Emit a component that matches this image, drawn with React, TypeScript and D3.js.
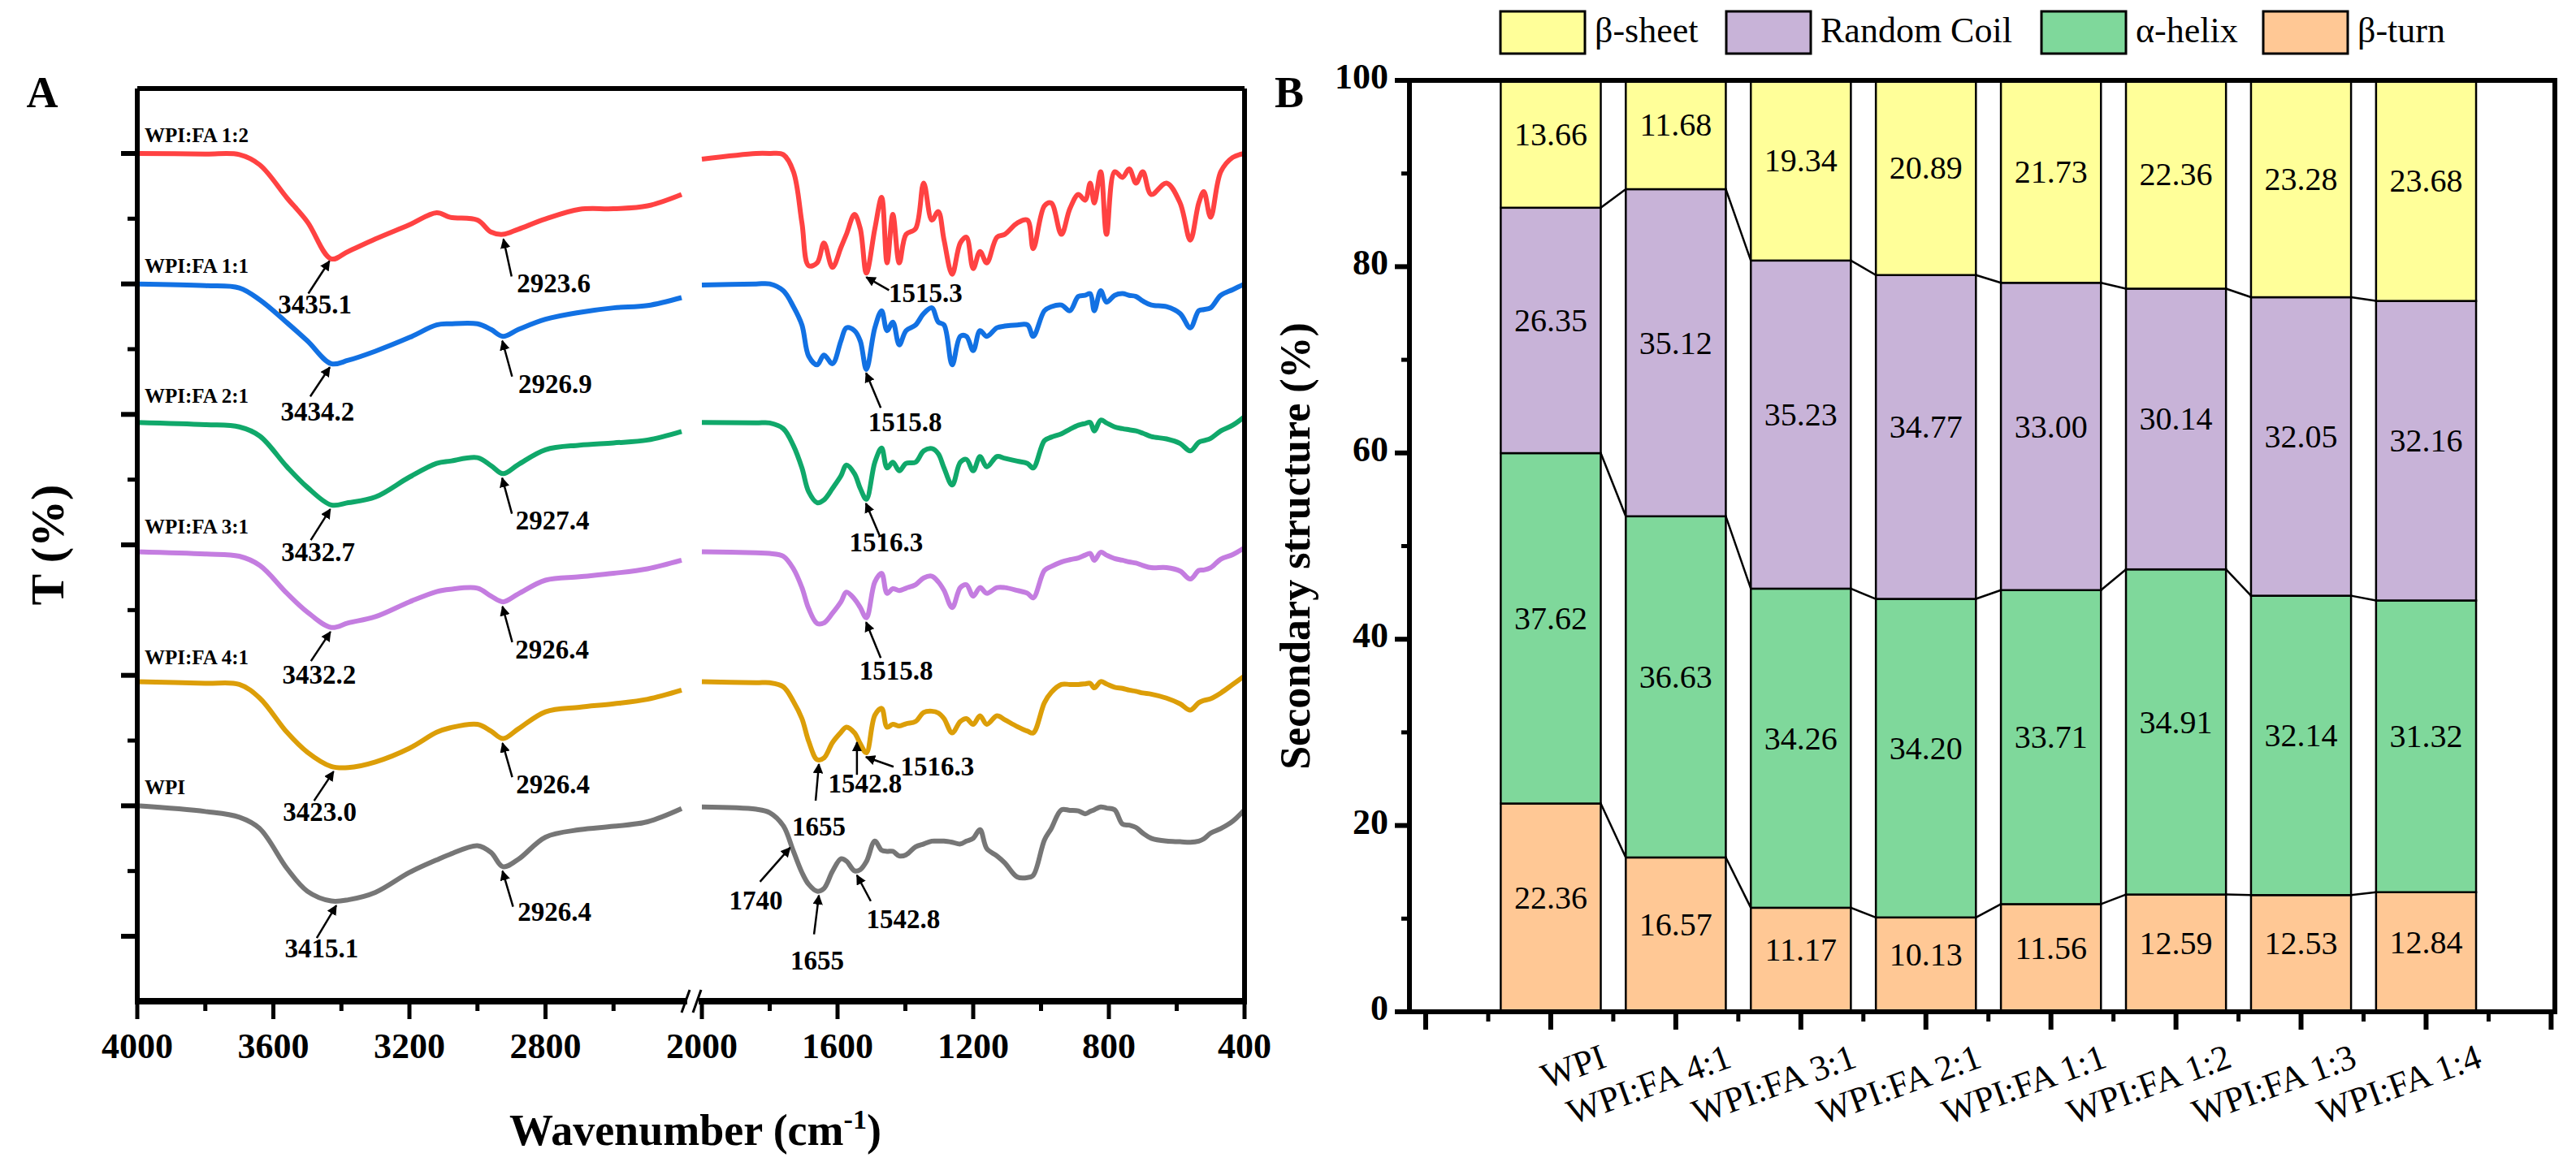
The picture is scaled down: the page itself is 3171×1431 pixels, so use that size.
import React, { useRef, useEffect } from 'react';
import * as d3 from 'd3';

// ---- Panel A: FTIR spectra (values relative to each curve's baseline) ----
const leftWn = [4000, 3800, 3700, 3640, 3560, 3500, 3430, 3380, 3300, 3200, 3120, 3080, 3000, 2960, 2925, 2880, 2800, 2700, 2600, 2500, 2400];
const rightWn = [2000, 1840, 1800, 1760, 1730, 1705, 1685, 1660, 1640, 1615, 1590, 1574, 1550, 1533, 1515, 1490, 1470, 1454, 1437, 1418,
  1398, 1370, 1346, 1322, 1303, 1286, 1262, 1238, 1220, 1200, 1180, 1160, 1130, 1107, 1070, 1040, 1023, 990, 970, 940,
  915, 890, 870, 855, 843, 824, 807, 783, 760, 740, 720, 700, 675, 630, 590, 560, 535, 520, 500, 470, 435, 400];

const sampleNames = ['WPI:FA 1:2', 'WPI:FA 1:1', 'WPI:FA 2:1', 'WPI:FA 3:1', 'WPI:FA 4:1', 'WPI'];
const sampleColors = ['#ff4242', '#1271e3', '#10a86a', '#c47de0', '#dc9e08', '#767676'];
const sampleOffsets = [1374, 1145, 916, 687, 458, 229];

const leftVals = [
  [0, -1, -2, -20, -78, -120, -185, -172, -150, -125, -104, -112, -117, -138, -142, -133, -115, -98, -97, -92, -72],
  [0, -3, -7, -28, -68, -100, -140, -134, -118, -94, -72, -70, -70, -80, -92, -80, -62, -50, -42, -38, -24],
  [-14, -18, -22, -38, -92, -128, -159, -155, -145, -110, -86, -82, -76, -90, -104, -88, -62, -54, -50, -45, -30],
  [-12, -16, -20, -36, -85, -118, -145, -137, -126, -100, -82, -78, -76, -90, -100, -86, -62, -56, -50, -42, -27],
  [-11, -14, -16, -40, -100, -135, -160, -162, -152, -128, -100, -92, -86, -98, -111, -94, -64, -56, -50, -42, -26],
  [0, -10, -20, -40, -110, -150, -167, -165, -152, -117, -95, -85, -70, -82, -107, -94, -55, -42, -36, -28, -5],
];

const rightVals = [
  [-10, 0, 0, -2, -32, -122, -197, -192, -157, -200, -165, -142, -107, -132, -210, -132, -77, -192, -107, -192,
    -142, -132, -52, -117, -102, -152, -212, -157, -147, -202, -172, -192, -147, -142, -122, -117, -167, -92, -87, -142,
    -97, -72, -82, -52, -87, -32, -142, -32, -42, -27, -52, -32, -72, -52, -87, -152, -87, -67, -112, -32, -7, 0],
  [-2, 0, 0, -12, -40, -72, -127, -142, -125, -140, -100, -77, -82, -100, -150, -77, -47, -82, -67, -107,
    -82, -72, -52, -42, -67, -72, -142, -92, -92, -117, -82, -92, -77, -74, -72, -72, -92, -47, -40, -37,
    -47, -22, -20, -17, -47, -12, -32, -20, -17, -20, -22, -30, -37, -40, -52, -77, -47, -45, -42, -20, -10, 0],
  [-14, -15, -15, -25, -55, -94, -136, -155, -150, -130, -108, -89, -104, -130, -149, -84, -59, -94, -84, -99,
    -86, -84, -64, -60, -69, -94, -124, -84, -79, -99, -74, -92, -74, -77, -82, -86, -94, -46, -40, -34,
    -26, -19, -16, -14, -29, -10, -15, -22, -25, -27, -29, -33, -39, -43, -51, -64, -49, -46, -42, -29, -19, -4],
  [-12, -14, -15, -20, -42, -75, -112, -138, -137, -120, -100, -83, -95, -110, -128, -65, -50, -85, -77, -80,
    -76, -70, -58, -55, -65, -80, -110, -75, -70, -90, -75, -85, -75, -75, -80, -85, -93, -45, -38, -30,
    -26, -23, -18, -15, -27, -13, -18, -24, -27, -30, -32, -36, -40, -40, -46, -60, -45, -44, -40, -25, -17, -5],
  [-11, -13, -13, -20, -46, -76, -116, -148, -145, -118, -100, -91, -101, -120, -136, -70, -58, -91, -86, -89,
    -85, -81, -65, -63, -66, -76, -101, -81, -76, -86, -71, -86, -71, -78, -90, -98, -101, -48, -30, -16,
    -16, -16, -15, -14, -22, -11, -15, -21, -23, -26, -28, -31, -33, -40, -50, -61, -48, -44, -41, -31, -16, -1],
  [-2, -6, -12, -35, -80, -117, -138, -150, -145, -115, -93, -97, -114, -112, -98, -62, -78, -80, -80, -88,
    -86, -72, -67, -62, -62, -62, -64, -67, -62, -57, -42, -75, -88, -100, -125, -126, -122, -60, -40, -7,
    -8, -9, -14, -10, -7, -2, -4, -7, -32, -34, -38, -48, -57, -62, -63, -64, -62, -58, -48, -40, -27, -7],
];

// peak annotations: sample index, wavenumber, label, tail offset, label offset (px)
const peakSample = [0, 0, 0, 1, 1, 1, 2, 2, 2, 3, 3, 3, 4, 4, 4, 4, 4, 5, 5, 5, 5, 5];
const peakWn = [3435.1, 2923.6, 1515.3, 3434.2, 2926.9, 1515.8, 3432.7, 2927.4, 1516.3, 3432.2, 2926.4, 1515.8,
  3423.0, 2926.4, 1542.8, 1516.3, 1655, 3415.1, 2926.4, 1740, 1655, 1542.8];
const peakLabel = ['3435.1', '2923.6', '1515.3', '3434.2', '2926.9', '1515.8', '3432.7', '2927.4', '1516.3', '3432.2', '2926.4', '1515.8',
  '3423.0', '2926.4', '1542.8', '1516.3', '1655', '3415.1', '2926.4', '1740', '1655', '1542.8'];
const peakTail = [[-26, 40], [10, 46], [28, 16], [-24, 36], [12, 44], [18, 43], [-24, 38], [12, 44], [17, 40], [-24, 36], [12, 44], [18, 44],
  [-24, 36], [12, 42], [0, 40], [34, 12], [-4, 45], [-24, 40], [13, 44], [-37, 42], [-6, 48], [17, 32]];
const peakText = [[-18, 57], [62, 58], [73, 23], [-15, 58], [65, 57], [48, 64], [-15, 56], [62, 56], [25, 52], [-14, 56], [61, 57], [37, 63],
  [-17, 53], [62, 54], [10, 54], [88, 15], [0, 80], [-18, 56], [64, 54], [-42, 68], [-2, 84], [57, 58]];

const aTicksLeft = [4000, 3600, 3200, 2800];
const aTicksRight = [2000, 1600, 1200, 800, 400];

// ---- Panel B: secondary structure ----
const categories = ['WPI', 'WPI:FA 4:1', 'WPI:FA 3:1', 'WPI:FA 2:1', 'WPI:FA 1:1', 'WPI:FA 1:2', 'WPI:FA 1:3', 'WPI:FA 1:4'];
const betaTurn = [22.36, 16.57, 11.17, 10.13, 11.56, 12.59, 12.53, 12.84];
const alphaHelix = [37.62, 36.63, 34.26, 34.20, 33.71, 34.91, 32.14, 31.32];
const randomCoil = [26.35, 35.12, 35.23, 34.77, 33.00, 30.14, 32.05, 32.16];
const betaSheet = [13.66, 11.68, 19.34, 20.89, 21.73, 22.36, 23.28, 23.68];
const seriesNames = ['β-sheet', 'Random Coil', 'α-helix', 'β-turn'];
const seriesColors = ['#ffff99', '#c8b3d8', '#7fd89b', '#ffc895'];
const yTicksB = [0, 20, 40, 60, 80, 100];

const FONT = '"Liberation Serif", "Times New Roman", serif';

const App = () => {
  const ref = useRef<SVGSVGElement>(null);

  useEffect(() => {
    const svg = d3.select(ref.current);
    svg.selectAll('*').remove();
    svg.attr('font-family', FONT);

    // ===== Panel A =====
    const L = 169, R = 1532, T = 109, B = 1233;
    const xl = d3.scaleLinear().domain([4000, 2400]).range([L, 839]);
    const xr = d3.scaleLinear().domain([2000, 400]).range([864, R]);
    const y = d3.scaleLinear().domain([-114, 1488]).range([B, T]);
    const xa = (w: number) => (w > 2200 ? xl(w) : xr(w));
    const gA = svg.append('g');

    const line = d3.line<[number, number]>().x(d => xa(d[0])).y(d => y(d[1])).curve(d3.curveCatmullRom.alpha(0.5));
    const valAt = (wns: number[], vals: number[], w: number) => {
      for (let i = 0; i < wns.length - 1; i++) {
        if (w <= wns[i] && w >= wns[i + 1]) {
          const t = (wns[i] - w) / (wns[i] - wns[i + 1]);
          return vals[i] + t * (vals[i + 1] - vals[i]);
        }
      }
      return vals[vals.length - 1];
    };

    sampleNames.forEach((name, i) => {
      const off = sampleOffsets[i];
      const lp = leftWn.map((w, j) => [w, off + leftVals[i][j]] as [number, number]);
      const rp = rightWn.map((w, j) => [w, off + rightVals[i][j]] as [number, number]);
      [lp, rp].forEach(p => gA.append('path').attr('d', line(p)).attr('fill', 'none')
        .attr('stroke', sampleColors[i]).attr('stroke-width', 6).attr('stroke-linejoin', 'round'));
      gA.append('text').attr('x', L + 9).attr('y', y(off) - 14).attr('font-size', 25).attr('font-weight', 'bold')
        .text(name);
    });

    // arrowheads
    svg.append('defs').append('marker').attr('id', 'ah').attr('viewBox', '0 0 10 10').attr('refX', 9).attr('refY', 5)
      .attr('markerWidth', 5).attr('markerHeight', 5).attr('orient', 'auto')
      .append('path').attr('d', 'M0,0 L10,5 L0,10 Z').attr('fill', '#000');

    peakWn.forEach((w, k) => {
      const i = peakSample[k];
      const v = w > 2200 ? valAt(leftWn, leftVals[i], w) : valAt(rightWn, rightVals[i], w);
      const px = xa(w), py = y(sampleOffsets[i] + v) + 6;
      gA.append('line').attr('x1', px + peakTail[k][0]).attr('y1', py + peakTail[k][1]).attr('x2', px).attr('y2', py)
        .attr('stroke', '#000').attr('stroke-width', 2.5).attr('marker-end', 'url(#ah)');
      gA.append('text').attr('x', px + peakText[k][0]).attr('y', py + peakText[k][1])
        .attr('text-anchor', 'middle').attr('dominant-baseline', 'middle')
        .attr('font-size', 33).attr('font-weight', 'bold').text(peakLabel[k]);
    });

    // frame & axes
    const sw = 6;
    gA.append('line').attr('x1', L).attr('x2', R).attr('y1', T).attr('y2', T).attr('stroke', '#000').attr('stroke-width', sw);
    gA.append('line').attr('x1', L).attr('x2', L).attr('y1', T).attr('y2', B).attr('stroke', '#000').attr('stroke-width', sw);
    gA.append('line').attr('x1', R).attr('x2', R).attr('y1', T).attr('y2', B).attr('stroke', '#000').attr('stroke-width', sw);
    gA.append('line').attr('x1', L - 3).attr('x2', 846).attr('y1', B).attr('y2', B).attr('stroke', '#000').attr('stroke-width', sw + 2);
    gA.append('line').attr('x1', 860).attr('x2', R + 3).attr('y1', B).attr('y2', B).attr('stroke', '#000').attr('stroke-width', sw + 2);
    [844, 858].forEach(bx => gA.append('line').attr('x1', bx - 5).attr('x2', bx + 5).attr('y1', B + 14).attr('y2', B - 14)
      .attr('stroke', '#000').attr('stroke-width', 3));

    d3.range(0, 1375, 229).forEach(v => gA.append('line').attr('x1', L - 20).attr('x2', L).attr('y1', y(v)).attr('y2', y(v))
      .attr('stroke', '#000').attr('stroke-width', 6));
    d3.range(114.5, 1375, 229).forEach(v => gA.append('line').attr('x1', L - 12).attr('x2', L).attr('y1', y(v)).attr('y2', y(v))
      .attr('stroke', '#000').attr('stroke-width', 5));

    const xTick = (xp: number, major: boolean) => gA.append('line').attr('x1', xp).attr('x2', xp).attr('y1', B)
      .attr('y2', B + (major ? 22 : 12)).attr('stroke', '#000').attr('stroke-width', 5);
    aTicksLeft.forEach(w => xTick(xl(w), true));
    aTicksRight.forEach(w => xTick(xr(w), true));
    [3800, 3400, 3000, 2600].forEach(w => xTick(xl(w), false));
    [1800, 1400, 1000, 600].forEach(w => xTick(xr(w), false));
    [...aTicksLeft.map(w => [xl(w), w]), ...aTicksRight.map(w => [xr(w), w])].forEach(([xp, w]) =>
      gA.append('text').attr('x', xp).attr('y', B + 60).attr('text-anchor', 'middle').attr('dominant-baseline', 'middle')
        .attr('font-size', 44).attr('font-weight', 'bold').text(String(w)));

    const xt = gA.append('text').attr('x', 856).attr('y', 1410).attr('text-anchor', 'middle')
      .attr('font-size', 54).attr('font-weight', 'bold');
    xt.append('tspan').text('Wavenumber (cm');
    xt.append('tspan').attr('dy', -20).attr('font-size', 34).text('-1');
    xt.append('tspan').attr('dy', 20).text(')');
    gA.append('text').attr('transform', `translate(78,${(T + B) / 2}) rotate(-90)`).attr('text-anchor', 'middle')
      .attr('font-size', 58).attr('font-weight', 'bold').text('T (%)');
    gA.append('text').attr('x', 52).attr('y', 132).attr('text-anchor', 'middle').attr('font-size', 54)
      .attr('font-weight', 'bold').text('A');

    // ===== Panel B =====
    const BL = 1735, BR = 3145, BT = 99, BB = 1246;
    const xb = d3.scaleLinear().domain([-0.13, 9.03]).range([BL, BR]);
    const yb = d3.scaleLinear().domain([0, 100]).range([BB, BT]);
    const gB = svg.append('g');
    const half = 0.4;

    const stacks = categories.map((_, i) => {
      const b0 = 0, b1 = betaTurn[i], b2 = b1 + alphaHelix[i], b3 = b2 + randomCoil[i];
      return [
        { lo: b0, hi: b1, v: betaTurn[i], c: seriesColors[3] },
        { lo: b1, hi: b2, v: alphaHelix[i], c: seriesColors[2] },
        { lo: b2, hi: b3, v: randomCoil[i], c: seriesColors[1] },
        { lo: b3, hi: 100, v: betaSheet[i], c: seriesColors[0] },
      ];
    });

    stacks.forEach((segs, i) => {
      const cx = i + 1;
      segs.forEach(s => {
        gB.append('rect').attr('x', xb(cx - half)).attr('width', xb(cx + half) - xb(cx - half))
          .attr('y', yb(s.hi)).attr('height', yb(s.lo) - yb(s.hi))
          .attr('fill', s.c).attr('stroke', '#000').attr('stroke-width', 2.5);
        gB.append('text').attr('x', xb(cx)).attr('y', yb((s.lo + s.hi) / 2) - 8).attr('text-anchor', 'middle')
          .attr('dominant-baseline', 'middle').attr('font-size', 40).text(s.v.toFixed(2));
      });
      if (i < stacks.length - 1) {
        [0, 1, 2].forEach(k => gB.append('line')
          .attr('x1', xb(cx + half)).attr('y1', yb(segs[k].hi))
          .attr('x2', xb(cx + 1 - half)).attr('y2', yb(stacks[i + 1][k].hi))
          .attr('stroke', '#000').attr('stroke-width', 2.5));
      }
    });

    gB.append('rect').attr('x', BL).attr('y', BT).attr('width', BR - BL).attr('height', BB - BT)
      .attr('fill', 'none').attr('stroke', '#000').attr('stroke-width', 6);

    yTicksB.forEach(v => {
      gB.append('line').attr('x1', BL - 18).attr('x2', BL).attr('y1', yb(v)).attr('y2', yb(v)).attr('stroke', '#000').attr('stroke-width', 6);
      gB.append('text').attr('x', BL - 26).attr('y', yb(v)).attr('text-anchor', 'end').attr('dominant-baseline', 'middle')
        .attr('font-size', 44).attr('font-weight', 'bold').text(String(v));
    });
    d3.range(10, 100, 20).forEach(v => gB.append('line').attr('x1', BL - 10).attr('x2', BL).attr('y1', yb(v)).attr('y2', yb(v))
      .attr('stroke', '#000').attr('stroke-width', 5));
    d3.range(0, 10).forEach(k => gB.append('line').attr('x1', xb(k)).attr('x2', xb(k)).attr('y1', BB).attr('y2', BB + 22)
      .attr('stroke', '#000').attr('stroke-width', 6));
    d3.range(0.5, 9, 1).forEach(k => gB.append('line').attr('x1', xb(k)).attr('x2', xb(k)).attr('y1', BB).attr('y2', BB + 12)
      .attr('stroke', '#000').attr('stroke-width', 5));
    categories.forEach((c, i) => gB.append('text')
      .attr('transform', `translate(${xb(i + 1) + 60},${BB + 38}) rotate(-20)`)
      .attr('text-anchor', 'end').attr('dominant-baseline', 'hanging').attr('font-size', 44).text(c));

    gB.append('text').attr('transform', `translate(1612,${(BT + BB) / 2}) rotate(-90)`).attr('text-anchor', 'middle')
      .attr('font-size', 52).attr('font-weight', 'bold').text('Secondary structure (%)');
    gB.append('text').attr('x', 1587).attr('y', 132).attr('text-anchor', 'middle').attr('font-size', 54)
      .attr('font-weight', 'bold').text('B');

    // legend
    const legX = [1847, 2125, 2513, 2786];
    seriesNames.forEach((n, i) => {
      gB.append('rect').attr('x', legX[i]).attr('y', 14).attr('width', 104).attr('height', 52)
        .attr('fill', seriesColors[i]).attr('stroke', '#000').attr('stroke-width', 3);
      gB.append('text').attr('x', legX[i] + 116).attr('y', 42).attr('dominant-baseline', 'middle')
        .attr('font-size', 44).text(n);
    });
  }, []);

  return (
    <svg ref={ref} width={3171} height={1431}
      style={{ position: 'absolute', left: 0, top: 0, background: '#fff' }} />
  );
};

export default App;
